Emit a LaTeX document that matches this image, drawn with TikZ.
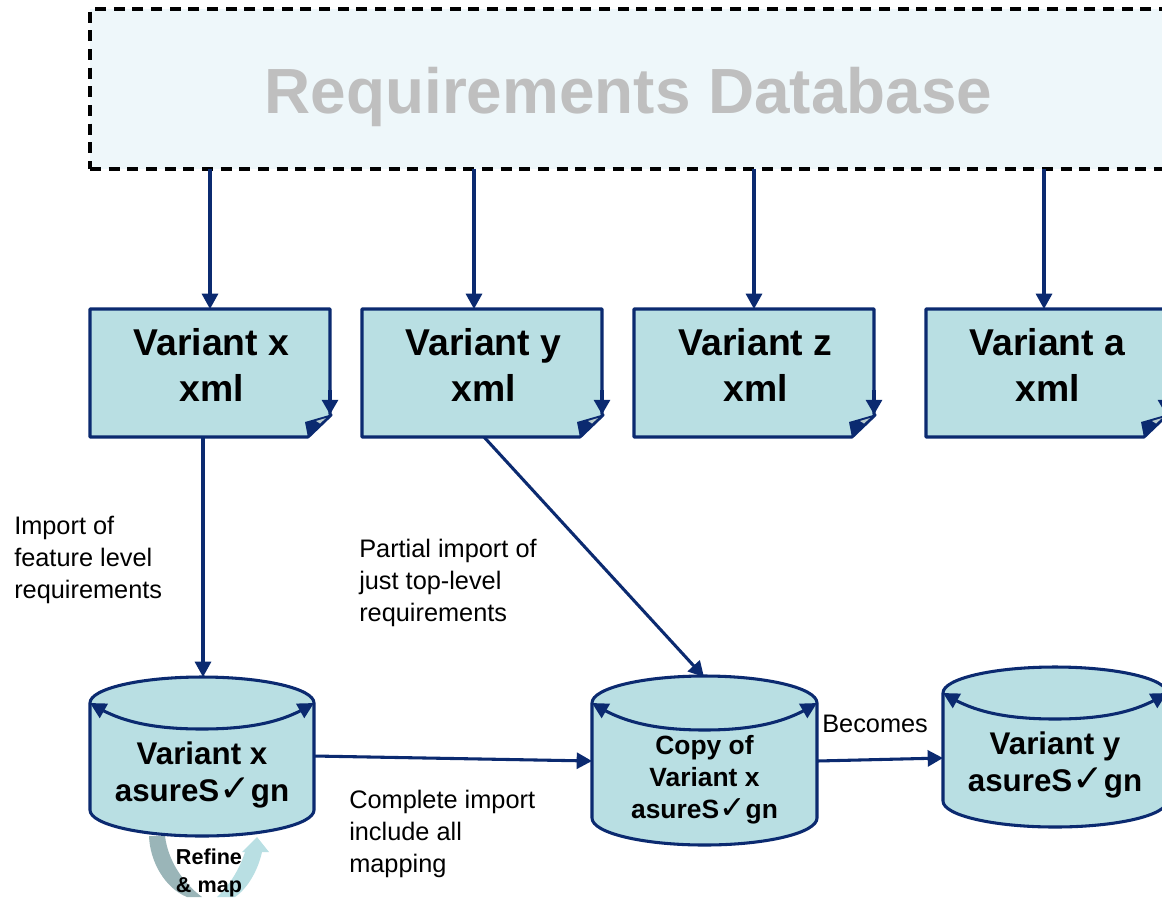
\documentclass[tikz,border=0pt]{standalone}
\usepackage{fontspec}
\setmainfont{Liberation Sans}
\newfontfamily\chkfont{DejaVu Sans}
\usetikzlibrary{arrows.meta,bending}
\definecolor{navy}{HTML}{0B2A70}
\definecolor{teal1}{HTML}{B9DFE3}
\definecolor{teal2}{HTML}{9AB5B8}
\definecolor{dbfill}{HTML}{EEF7FA}
\definecolor{dbtext}{HTML}{BFBFBF}
\newcommand{\chk}{{\chkfont\bfseries\scalebox{1.2}{✓}}}
\tikzset{
 x=0.75pt,y=-0.75pt,
 link/.style={draw=navy,line width=2.3pt,-{Triangle[length=11.5pt,width=12pt]}},
 outline/.style={draw=navy,line width=2.3pt,fill=teal1,line join=round},
 doctext/.style={font=\fontsize{28}{34}\selectfont\bfseries,align=center,text=black,inner sep=0pt},
 cyltext/.style={font=\fontsize{23.5}{28}\selectfont\bfseries,align=center,text=black,inner sep=0pt},
 copytext/.style={font=\fontsize{19.8}{24}\selectfont\bfseries,align=center,text=black,inner sep=0pt},
 note/.style={font=\fontsize{19}{24}\selectfont,align=left,anchor=west,text=black,inner sep=0pt},
 frame/.style={draw=none,inner sep=0pt,outer sep=0pt},
}
% name, left x, label
\newcommand{\docshape}[3]{%
 \pgfmathsetmacro{\xr}{#2+240}\pgfmathsetmacro{\xf}{#2+218}%
 \pgfmathsetmacro{\xa}{#2+215}\pgfmathsetmacro{\xb}{#2+222}\pgfmathsetmacro{\xc}{#2+226}\pgfmathsetmacro{\xd}{#2+236}\pgfmathsetmacro{\xe}{#2+230}%
 \pgfmathsetmacro{\xs}{#2+241}\pgfmathsetmacro{\xm}{#2+121.5}%
 \path[outline] (#2,309) -- (\xr,309) -- (\xr,414) -- (\xs,415) -- (\xf,437) -- (#2,437) -- cycle;
 \draw[navy,line width=2.3pt,-{Triangle[length=11pt,width=12pt]}] (\xr,390) -- (\xr,414.5);
 \fill[navy] (\xa,422) -- (\xb,420) -- (\xs,414.5) -- (\xf,437.5) -- cycle;
 \fill[teal2!70!white] (\xc,421) -- (\xd,418) -- (\xe,423.5) -- cycle;
 \node[frame,minimum width=180pt,minimum height=96pt] (#1) at (\xm,373) {};
 \node[doctext] (#1t) at (\xm,365) {#3};
}
% name, left, right, ellipse centre y, side bottom y, ry, label, style
\newcommand{\cylshape}[8]{%
 \pgfmathsetmacro{\xm}{(#2+#3)/2}\pgfmathsetmacro{\xl}{\xm-(#3-#2)/2*0.55}\pgfmathsetmacro{\xr}{\xm+(#3-#2)/2*0.55}%
 \pgfmathsetmacro{\yt}{#4-#6}\pgfmathsetmacro{\yu}{#4-#6*0.55}\pgfmathsetmacro{\yd}{#4+#6*0.55}\pgfmathsetmacro{\ye}{#4+#6}%
 \pgfmathsetmacro{\yb}{#5+#6}\pgfmathsetmacro{\yc}{#5+#6*0.55}\pgfmathsetmacro{\yy}{(#4+#5)/2}\pgfmathsetmacro{\ww}{(#3-#2)*0.75}\pgfmathsetmacro{\hh}{(#5-#4+2*#6)*0.75}%
 \pgfmathsetmacro{\xp}{#2+22}\pgfmathsetmacro{\xq}{#3-22}\pgfmathsetmacro{\yp}{#4+14}%
 \path[outline] (#2,#4) .. controls (#2,\yu) and (\xl,\yt) .. (\xm,\yt) .. controls (\xr,\yt) and (#3,\yu) .. (#3,#4)
   -- (#3,#5) .. controls (#3,\yc) and (\xr,\yb) .. (\xm,\yb) .. controls (\xl,\yb) and (#2,\yc) .. (#2,#5) -- cycle;
 \draw[navy,line width=2.3pt,{Triangle[length=12pt,width=12pt]}-{Triangle[length=12pt,width=12pt]}] (#2,#4) .. controls (\xp,\yp) and (\xl,\ye) .. (\xm,\ye) .. controls (\xr,\ye) and (\xq,\yp) .. (#3,#4);
 \node[frame,minimum width=\ww pt,minimum height=\hh pt] (#1) at (\xm,\yy) {};
 \node[#8] (#1t) at (\xm,\yy+#6*0.7) {#7};
}
\begin{document}
\begin{tikzpicture}
\path[use as bounding box] (0,0) rectangle (1162,897);
\clip (0,0) rectangle (1162,897);
\fill[white] (0,0) rectangle (1162,897);

% database
\node[draw=black,dash pattern=on 8.25pt off 5.75pt,line width=2.35pt,fill=dbfill,minimum width=870pt,minimum height=120pt,inner sep=0pt,outer sep=0pt,anchor=north west] (db) at (90,9) {};
\node[font=\fontsize{47.9}{50}\selectfont\bfseries,text=dbtext,inner sep=0pt] (dbt) at (628.5,97) {Requirements Database};

% variant documents
\docshape{dx}{90}{Variant x\\xml}
\docshape{dy}{362}{Variant y\\xml}
\docshape{dz}{634}{Variant z\\xml}
\docshape{da}{926}{Variant a\\xml}

\coordinate (t1) at (210,169); \coordinate (b1) at (210,309);
\coordinate (t2) at (474,169); \coordinate (b2) at (474,309);
\coordinate (t3) at (754,169); \coordinate (b3) at (754,309);
\coordinate (t4) at (1044,169); \coordinate (b4) at (1044,309);
\draw[link] (t1) -- (b1);
\draw[link] (t2) -- (b2);
\draw[link] (t3) -- (b3);
\draw[link] (t4) -- (b4);

% refine loop
\fill[teal1] (217,897) .. controls (230,885) and (240,868) .. (245,852) -- (242,852) -- (257,837) -- (269,852) -- (262,852) .. controls (258,870) and (248,888) .. (235,897) -- cycle;
\fill[teal2] (149,836) .. controls (150,862) and (165,888) .. (187,897) -- (202,897) .. controls (182,882) and (168,860) .. (165,836) -- cycle;

% cylinders
\cylshape{cx}{90}{314}{703}{810}{26}{Variant x\\asureS\chk gn}{cyltext}
\cylshape{cc}{592}{817}{703}{818}{27}{Copy of\\Variant x\\asureS\chk gn}{copytext}
\cylshape{cy}{943}{1167}{693}{801}{26}{Variant y\\asureS\chk gn}{cyltext}

% connectors
\coordinate (dxo) at (203,437); \coordinate (cxi) at (203,677);
\coordinate (dyo) at (484,437); \coordinate (cci) at (704,677);
\coordinate (cxo) at (314,756); \coordinate (ccl) at (592,761);
\coordinate (cco) at (817,761); \coordinate (cyi) at (943,758);
\draw[link] (dxo) -- (cxi);
\draw[link] (dyo) -- (cci);
\draw[link] (cxo) -- (ccl);
\draw[link] (cco) -- (cyi);

% labels
\node[note] (n1) at (14,560) {Import of\\feature level\\requirements};
\node[note] (n2) at (359,583) {Partial import of\\just top-level\\requirements};
\node[note] (n3) at (349,834) {Complete import\\include all\\mapping};
\node[note] (n4) at (822,724) {Becomes};
\node[font=\fontsize{16.2}{20.5}\selectfont\bfseries,align=center,inner sep=0pt] (n5) at (209,873) {Refine\\\& map};
\end{tikzpicture}
\end{document}
